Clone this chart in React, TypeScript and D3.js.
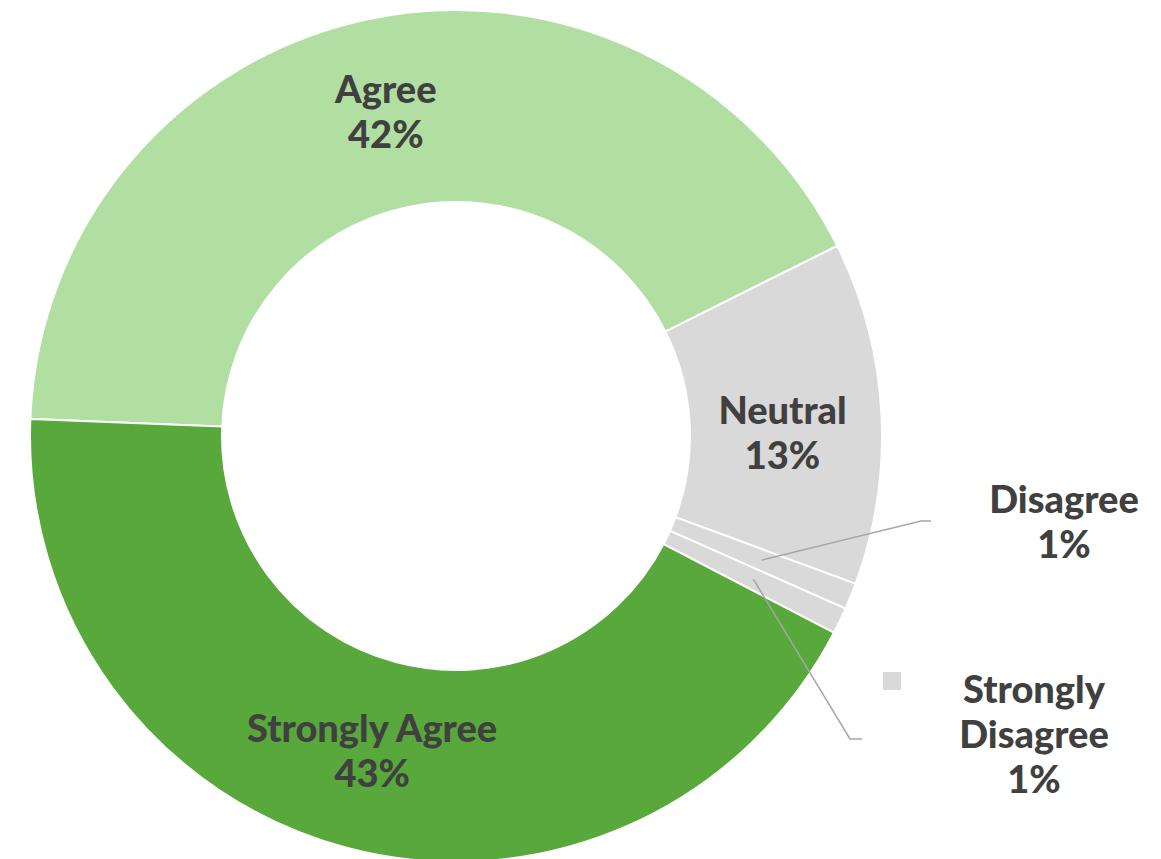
import React from "react";
import * as d3 from "d3";

const categories = ["Agree", "Neutral", "Disagree", "Strongly Disagree", "Strongly Agree"];
const values = [42, 13, 1, 1, 43];
const labelLines = [["Agree"], ["Neutral"], ["Disagree"], ["Strongly", "Disagree"], ["Strongly Agree"]];
const colors = ["#b1dfa2", "#d9d9d9", "#d9d9d9", "#d9d9d9", "#58a83b"];

const W = 1161, H = 859;
const cx = 456, cy = 436, R = 426, r0 = 234;
const startDeg = 272.3;
const FONT = "Lato, 'Open Sans', sans-serif";
const FS = 38, LH = 45;

export default function App() {
  const total = d3.sum(values);
  const pie = d3.pie<number>().sort(null).value((d) => d)
    .startAngle((startDeg * Math.PI) / 180)
    .endAngle((startDeg * Math.PI) / 180 + 2 * Math.PI);
  const arcs = pie(values);
  const arc = d3.arc<d3.PieArcDatum<number>>().innerRadius(r0).outerRadius(R);
  const labelArc = d3.arc<d3.PieArcDatum<number>>().innerRadius(330).outerRadius(330);
  const pct = (v: number) => `${Math.round((v / total) * 100)}%`;

  // outside label anchors for small slices (label center x, first baseline y, elbow point)
  const outside: Record<number, { x: number; y: number; ex: number; ey: number; hx: number }> = {
    2: { x: 1064, y: 513, ex: 921, ey: 521, hx: 931 },
    3: { x: 1034, y: 703, ex: 850, ey: 739, hx: 862 },
  };
  const nudge: Record<number, [number, number]> = { 0: [-1, 0], 1: [-3, 16], 4: [1, -2] };

  return (
    <svg width={W} height={H} style={{ position: "absolute", left: 0, top: 0, background: "#fff" }}>
      <g transform={`translate(${cx},${cy})`}>
        {arcs.map((a, i) => (
          <path key={i} d={arc(a) || ""} fill={colors[i]} stroke="#fff" strokeWidth={2} />
        ))}
      </g>
      {arcs.map((a, i) => {
        const [lx, ly] = labelArc.centroid(a);
        const o = outside[i];
        if (o) {
          const sx = cx + lx, sy = cy + ly;
          return (
            <g key={i}>
              <polyline points={`${sx},${sy} ${o.ex},${o.ey} ${o.hx},${o.ey}`} fill="none" stroke="#a6a6a6" strokeWidth={1.5} />
              <text x={o.x} y={o.y} textAnchor="middle" fontFamily={FONT} fontWeight={900} fontSize={FS} fill="#404040">
                {labelLines[i].map((t, k) => (
                  <tspan key={k} x={o.x} dy={k === 0 ? 0 : LH}>{t}</tspan>
                ))}
                <tspan x={o.x} dy={LH}>{pct(values[i])}</tspan>
              </text>
            </g>
          );
        }
        const lines = [...labelLines[i], pct(values[i])];
        const [nx, ny] = nudge[i] || [0, 0];
        const x = cx + lx + nx, y = cy + ly + ny;
        const y0 = y - ((lines.length - 1) * LH) / 2 + 12;
        return (
          <text key={i} x={x} y={y0} textAnchor="middle" fontFamily={FONT} fontWeight={900} fontSize={FS} fill="#404040">
            {lines.map((t, k) => (
              <tspan key={k} x={x} dy={k === 0 ? 0 : LH}>{t}</tspan>
            ))}
          </text>
        );
      })}
      <rect x={883} y={672} width={18} height={18} fill="#d9d9d9" />
    </svg>
  );
}
